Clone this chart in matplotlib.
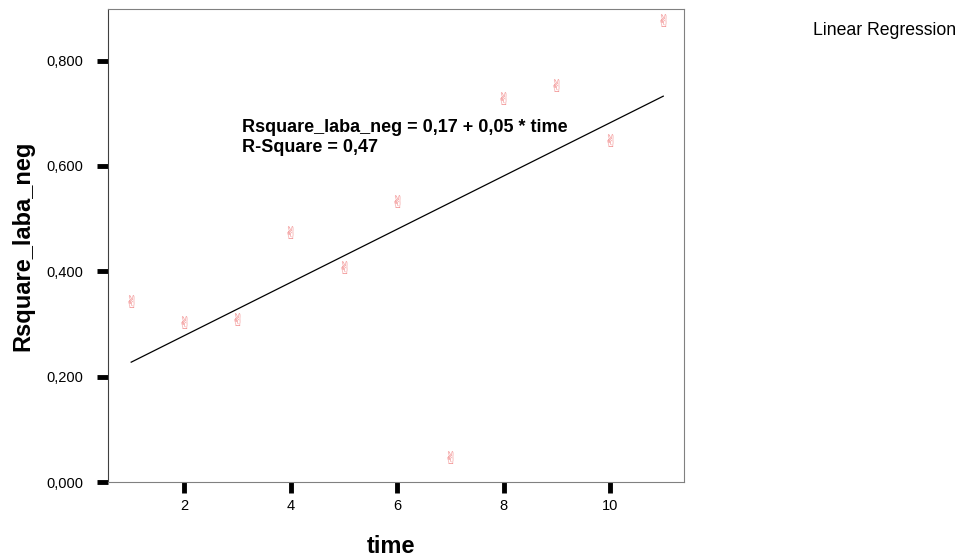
import matplotlib.pyplot as plt
import numpy as np

plt.rcParams["font.family"] = ["Liberation Sans", "DejaVu Sans"]

time = [1, 2, 3, 4, 5, 6, 7, 8, 9, 10, 11]
rsquare_laba_neg = [0.340, 0.300, 0.305, 0.470, 0.404, 0.529, 0.044, 0.726, 0.750, 0.646, 0.874]

x_ticks = [2, 4, 6, 8, 10]
y_ticks = [0.0, 0.2, 0.4, 0.6, 0.8]
y_tick_labels = ["0,000", "0,200", "0,400", "0,600", "0,800"]

fit_intercept = 0.177
fit_slope = 0.0505
equation = "Rsquare_laba_neg = 0,17 + 0,05 * time"
r_square = "R-Square = 0,47"

fig = plt.figure(figsize=(9.62, 5.57), dpi=100)
ax = fig.add_axes([108 / 962, 1 - 482 / 557, (684 - 108) / 962, (482 - 9) / 557])

# points drawn as the SPSS hand glyph
for xv, yv in zip(time, rsquare_laba_neg):
    ax.text(
        xv, yv, "\u270c",
        family=["DejaVu Sans", "Noto Sans CJK JP"],
        fontsize=12,
        color="#f08080",
        ha="center",
        va="center"
    )

xs = np.array([time[0], time[-1]])
ax.plot(xs, fit_intercept + fit_slope * xs, color="black", linewidth=0.9)

ax.set_xlim(0.564, 11.39)
ax.set_ylim(0.0, 0.898)

ax.set_xticks(x_ticks)
ax.set_xticklabels([str(t) for t in x_ticks], fontsize=10.5)
ax.set_yticks(y_ticks)
ax.set_yticklabels(y_tick_labels, fontsize=10.5)
ax.tick_params(direction="out", length=8, width=3.5, color="black")
ax.tick_params(axis="y", pad=10)
ax.tick_params(axis="x", pad=4)

for side in ["top", "right", "bottom"]:
    ax.spines[side].set_color("#808080")
ax.spines["left"].set_color("#404040")

ax.set_xlabel("time", fontsize=17, fontweight="bold")
ax.xaxis.set_label_coords(0.491, -0.112)
ax.set_ylabel("Rsquare_laba_neg", fontsize=17, fontweight="bold")
ax.yaxis.set_label_coords(-0.128, 0.5)

ax.text(3.08, 0.665, equation, fontsize=13, fontweight="bold", va="baseline")
ax.text(3.08, 0.627, r_square, fontsize=13, fontweight="bold", va="baseline")

fig.text(813 / 962, 1 - 35 / 557, "Linear Regression", fontsize=12.7, va="baseline")

fig.savefig("out.png", dpi=100)
plt.close(fig)
